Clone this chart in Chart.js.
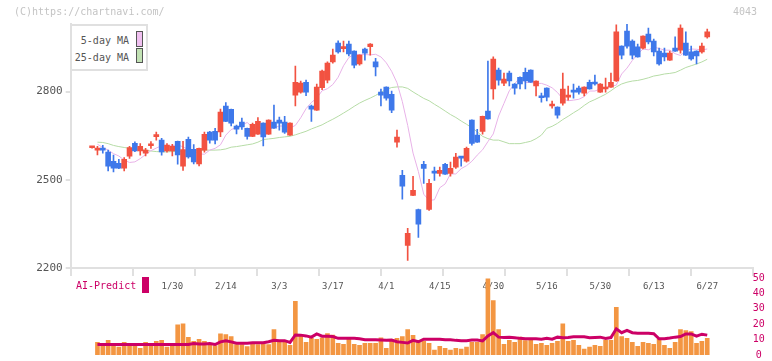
<!DOCTYPE html>
<html>
<head>
<meta charset="utf-8">
<script src="https://cdn.jsdelivr.net/npm/chart.js@4.4.1/dist/chart.umd.min.js"></script>
<style>
  body { margin: 0; background: #fff; }
  #wrap { position: relative; width: 772px; height: 361px; overflow: hidden; font-family: "DejaVu Sans Mono", monospace; }
  #priceCanvas { position: absolute; left: 0; top: 0; }
  #volCanvas { position: absolute; left: 0; top: 262px; }
  .txt { position: absolute; white-space: pre; font-size: 10px; line-height: 12px; }
  .copy { left: 14px; top: 6px; color: #c4c4c4; }
  .code { right: 15px; top: 6px; color: #c4c4c4; }
  .legend { position: absolute; left: 70px; top: 24px; width: 74px; height: 43px; border: 2px solid #e0e0e0; background: #fff; }
  .lg-text { position: absolute; right: 17px; color: #555; font-size: 10px; line-height: 12px; white-space: pre; }
  .swatch { position: absolute; left: 64px; width: 5px; border: 1px solid #555; }
  .ai { left: 76px; top: 280px; color: #cc0066; }
  .ai-box { position: absolute; left: 142px; top: 277px; width: 7px; height: 16px; background: #cc0066; }
</style>
</head>
<body>
<div id="wrap">
  <canvas id="priceCanvas" width="772" height="300"></canvas>
  <canvas id="volCanvas" width="772" height="99"></canvas>
  <div class="txt copy">(C)https://chartnavi.com/</div>
  <div class="txt code">4043</div>
  <div class="legend">
    <div class="lg-text" style="top:9px">5-day MA</div>
    <div class="swatch" style="top:5px;height:14px;background:#f0c0f0"></div>
    <div class="lg-text" style="top:26px">25-day MA</div>
    <div class="swatch" style="top:22px;height:13px;background:#c2e2b4"></div>
  </div>
  <div class="txt ai">AI-Predict</div>
  <div class="ai-box"></div>
</div>
<script>
// daily candles, index 0 .. 115
const opens = [2609,2601,2607,2594,2563,2556,2540,2580,2624,2598,2591,2616,2647,2635,2598,2598,2631,2546,2638,2604,
  2554,2601,2662,2665,2663,2751,2740,2683,2696,2675,2648,2655,2693,2655,2696,2703,2696,2652,2788,2798,
  2832,2751,2737,2813,2839,2901,2965,2946,2962,2938,2894,2945,2953,2901,2798,2815,2791,2628,2515,2277,
  2447,2399,2553,2399,2529,2522,2553,2522,2543,2577,2563,2703,2652,2665,2734,2809,2873,2829,2863,2826,
  2849,2866,2873,2819,2785,2812,2751,2747,2761,2781,2802,2812,2795,2832,2832,2798,2809,2815,2836,2955,
  3006,2972,2952,2948,2996,2972,2938,2931,2907,2948,2941,2965,2935,2938,2935,2986];
const highs = [2612,2614,2617,2601,2584,2570,2576,2614,2629,2623,2607,2630,2662,2641,2623,2621,2632,2631,2645,2620,
  2608,2662,2665,2675,2741,2763,2741,2686,2710,2676,2693,2712,2694,2704,2754,2713,2716,2694,2887,2836,
  2839,2754,2826,2873,2901,2945,2973,2972,2972,2939,2925,2948,2963,2913,2809,2816,2802,2669,2532,2335,
  2512,2400,2563,2502,2543,2543,2556,2560,2590,2578,2611,2704,2672,2717,2904,2918,2880,2863,2870,2827,
  2850,2880,2874,2837,2795,2813,2768,2748,2863,2819,2826,2819,2816,2839,2856,2827,2846,2863,3027,2956,
  3030,2976,2962,2990,3016,2979,2948,2948,2938,2986,3027,3003,2955,2939,2965,3013];
const lows = [2608,2585,2591,2530,2527,2538,2530,2573,2596,2584,2581,2607,2635,2584,2594,2581,2553,2532,2574,2554,
  2547,2594,2625,2622,2647,2698,2683,2656,2671,2638,2647,2654,2615,2654,2675,2669,2658,2651,2751,2795,
  2786,2699,2736,2807,2830,2897,2931,2935,2921,2881,2890,2907,2924,2853,2751,2771,2728,2611,2434,2226,
  2446,2304,2488,2396,2498,2512,2518,2512,2539,2546,2560,2618,2627,2655,2706,2774,2822,2820,2819,2791,
  2809,2809,2831,2785,2764,2768,2744,2710,2754,2771,2778,2791,2785,2808,2822,2797,2798,2814,2835,2911,
  2948,2911,2917,2945,2962,2921,2890,2904,2906,2937,2931,2923,2907,2894,2931,2982];
const closes = [2611,2607,2601,2546,2540,2540,2570,2610,2598,2614,2601,2618,2649,2595,2618,2614,2585,2603,2578,2561,
  2607,2655,2635,2635,2730,2699,2693,2672,2680,2648,2689,2699,2646,2703,2676,2693,2662,2693,2832,2829,
  2798,2740,2815,2870,2897,2924,2935,2952,2928,2890,2924,2931,2962,2884,2788,2778,2737,2645,2478,2318,
  2464,2349,2539,2488,2523,2532,2519,2539,2577,2574,2607,2624,2628,2716,2707,2911,2839,2843,2836,2812,
  2826,2836,2832,2836,2779,2781,2757,2720,2809,2788,2798,2798,2815,2809,2826,2826,2815,2832,3003,2924,
  2955,2924,2918,2989,2969,2935,2894,2918,2931,2938,3016,2924,2911,2921,2955,3003];

// moving averages as drawn (no value at index 0)
const ma5 = [null,2621,2610,2601,2589,2581,2567,2559,2561,2572,2586,2599,2608,2616,2615,2616,2619,2612,2603,2600,
  2588,2587,2601,2607,2619,2652,2671,2678,2686,2695,2678,2676,2678,2672,2677,2683,2683,2676,2685,2711,
  2742,2763,2778,2803,2810,2824,2849,2888,2916,2927,2926,2926,2925,2927,2918,2898,2869,2830,2766,2685,
  2591,2528,2451,2430,2432,2473,2486,2520,2520,2538,2548,2563,2584,2602,2630,2656,2717,2760,2803,2827,
  2848,2831,2831,2828,2828,2822,2813,2797,2775,2769,2771,2774,2783,2802,2802,2809,2815,2818,2822,2860,
  2880,2906,2928,2945,2942,2951,2947,2941,2941,2929,2923,2939,2945,2944,2942,2945];
const ma25 = [null,2628,2627,2623,2617,2613,2610,2607,2605,2603,2601,2598,2596,2595,2595,2596,2597,2598,2599,2601,
  2601,2601,2601,2601,2602,2605,2611,2613,2616,2619,2622,2628,2637,2639,2641,2644,2646,2648,2653,2659,
  2665,2673,2680,2687,2697,2706,2716,2727,2738,2750,2761,2770,2778,2787,2798,2807,2814,2816,2816,2811,
  2799,2788,2777,2769,2757,2746,2734,2722,2712,2700,2689,2677,2663,2648,2640,2635,2635,2629,2623,2623,
  2623,2627,2631,2640,2652,2675,2682,2692,2705,2716,2728,2739,2753,2765,2773,2782,2791,2803,2816,2826,
  2832,2836,2838,2842,2847,2853,2856,2860,2862,2865,2873,2882,2888,2894,2901,2910];

// lower panel (right axis 0-50)
const volume = [null,8.2,6.1,9.5,6.1,5.1,8.2,6.1,6.1,4.4,8.2,6.1,8.9,9.5,5.1,6.1,19.6,20.3,11.4,8.9,
  10.1,8.9,7.4,6.1,13.7,13.3,12.0,6.8,6.8,5.5,8.2,6.8,7.4,6.8,16.5,8.9,9.3,6.3,34.8,12.4,
  8.2,10.8,10.1,11.2,13.9,12.9,7.6,7.0,10.1,7.0,6.3,7.6,7.6,7.6,11.2,4.4,9.5,10.8,12.0,16.5,
  12.7,9.5,8.9,7.6,3.2,5.7,4.4,3.2,4.4,3.8,5.1,8.2,8.2,13.3,49.4,35.4,16.5,7.0,9.5,8.2,
  11.7,9.3,10.1,7.0,7.6,6.3,7.6,8.9,20.3,8.9,9.5,6.3,3.8,5.1,6.3,5.7,9.5,9.5,31.0,12.0,
  10.8,8.2,5.7,8.2,7.6,7.0,10.1,6.3,4.4,8.2,16.5,15.8,15.2,7.6,8.9,10.8];
const aiPredict = [null,6.8,6.8,6.8,6.8,6.8,6.8,6.8,6.8,6.8,6.8,6.8,6.8,6.8,6.8,6.8,6.8,6.8,6.8,7.4,
  7.2,7.2,7.4,6.8,8.5,9.3,8.5,7.6,7.6,7.6,8.0,8.0,8.0,8.6,9.6,9.3,9.3,8.2,13.0,12.9,
  12.4,11.6,13.7,12.2,12.2,12.0,10.8,10.8,10.8,10.8,10.5,9.9,9.9,9.9,9.7,9.5,9.7,8.6,8.2,7.8,
  9.5,8.6,10.3,10.3,10.3,10.3,9.9,9.9,9.5,9.3,9.3,9.7,9.7,9.1,12.4,14.5,11.6,11.4,11.6,11.2,
  10.8,10.5,10.5,10.5,10.3,10.8,10.3,11.6,11.2,11.4,11.8,11.8,11.8,11.2,11.4,11.6,10.8,11.3,17.0,14.5,
  16.0,14.5,14.1,14.1,14.1,13.8,10.5,10.5,11.0,11.6,12.0,13.7,13.7,12.2,13.5,12.9];

const dateLabels = ['1/30','2/14','3/3','3/17','4/1','4/15','4/30','5/16','5/30','6/13','6/27'];
const dateLabelIdx = [15,25,35,45,55,65,75,85,95,105,115];
const priceTicks = [2200,2500,2800];

const xMin = -4, xMax = 123.5;
const gridCount = 11;
const upColor = '#f25241', downColor = '#3e78ea';
const monoFont = 'DejaVu Sans Mono';

const candleColor = ctx => closes[ctx.dataIndex] >= opens[ctx.dataIndex] ? upColor : downColor;
const toPoints = arr => arr.map((v, i) => ({ x: i, y: v }));

new Chart(document.getElementById('priceCanvas'), {
    data: {
        datasets: [
            {
                type: 'line',
                data: toPoints(ma25),
                borderColor: '#b6dca6',
                borderWidth: 1,
                pointRadius: 0,
                order: 3
            },
            {
                type: 'line',
                data: toPoints(ma5),
                borderColor: '#e8b2e8',
                borderWidth: 1,
                pointRadius: 0,
                order: 2
            },
            {
                type: 'bar',
                data: opens.map((o, i) => ({ x: i, y: [lows[i], highs[i]] })),
                backgroundColor: candleColor,
                barThickness: 1,
                grouped: false,
                order: 1
            },
            {
                type: 'bar',
                data: opens.map((o, i) => ({ x: i, y: [o, closes[i]] })),
                backgroundColor: candleColor,
                barThickness: 5,
                minBarLength: 2,
                grouped: false,
                order: 0
            }
        ]
    },
    options: {
        responsive: false,
        animation: false,
        devicePixelRatio: 1,
        layout: { padding: { top: 24, right: 19.3, left: 0, bottom: 0 } },
        plugins: {
            legend: { display: false },
            tooltip: { enabled: false }
        },
        scales: {
            xg: {
                type: 'linear',
                min: xMin,
                max: xMax,
                position: 'bottom',
                weight: 0,
                offset: false,
                afterBuildTicks: s => {
                    s.ticks = Array.from({ length: gridCount + 1 }, (_, k) => ({ value: xMin + k * (xMax - xMin) / gridCount }));
                },
                afterFit: s => { s.height = 8; },
                grid: { drawOnChartArea: false, drawTicks: true, tickLength: 8, color: '#e0e0e0', lineWidth: 2, offset: false },
                border: { color: '#e0e0e0', width: 2 },
                ticks: { display: false }
            },
            x: {
                type: 'linear',
                min: xMin,
                max: xMax,
                position: 'bottom',
                weight: 1,
                offset: false,
                afterBuildTicks: s => { s.ticks = dateLabelIdx.map(v => ({ value: v })); },
                afterFit: s => { s.height = 24; },
                grid: { display: false, drawTicks: false, offset: false },
                border: { display: false },
                ticks: {
                    autoSkip: false,
                    maxRotation: 0,
                    color: '#555',
                    font: { family: monoFont, size: 9 },
                    padding: 5,
                    callback: (v, i) => dateLabels[i]
                }
            },
            y: {
                type: 'linear',
                min: 2200,
                max: 3030,
                position: 'left',
                afterBuildTicks: s => { s.ticks = priceTicks.map(v => ({ value: v })); },
                afterFit: s => { s.width = 70.7; },
                grid: { drawOnChartArea: false, drawTicks: true, tickLength: 5, color: '#e0e0e0', lineWidth: 2 },
                border: { color: '#e0e0e0', width: 2 },
                ticks: {
                    color: '#555',
                    font: { family: monoFont, size: 11 },
                    padding: 3,
                    callback: v => String(v)
                }
            }
        }
    }
});

new Chart(document.getElementById('volCanvas'), {
    data: {
        datasets: [
            {
                type: 'line',
                data: toPoints(aiPredict),
                borderColor: '#cc0066',
                borderWidth: 3,
                pointRadius: 0,
                order: 0
            },
            {
                type: 'bar',
                data: toPoints(volume),
                backgroundColor: '#f39642',
                barThickness: 4,
                grouped: false,
                order: 1
            }
        ]
    },
    options: {
        responsive: false,
        animation: false,
        devicePixelRatio: 1,
        layout: { padding: { top: 16, bottom: 4, left: 70.7, right: 7.3 } },
        plugins: {
            legend: { display: false },
            tooltip: { enabled: false }
        },
        scales: {
            x: { type: 'linear', min: xMin, max: xMax, display: false, offset: false },
            y: {
                type: 'linear',
                min: 0,
                max: 50,
                position: 'right',
                afterFit: s => { s.width = 12; },
                grid: { display: false, drawTicks: false },
                border: { display: false },
                ticks: {
                    stepSize: 10,
                    color: '#cc0066',
                    font: { family: monoFont, size: 10 },
                    padding: 0,
                    crossAlign: 'center'
                }
            }
        }
    }
});
</script>
</body>
</html>
